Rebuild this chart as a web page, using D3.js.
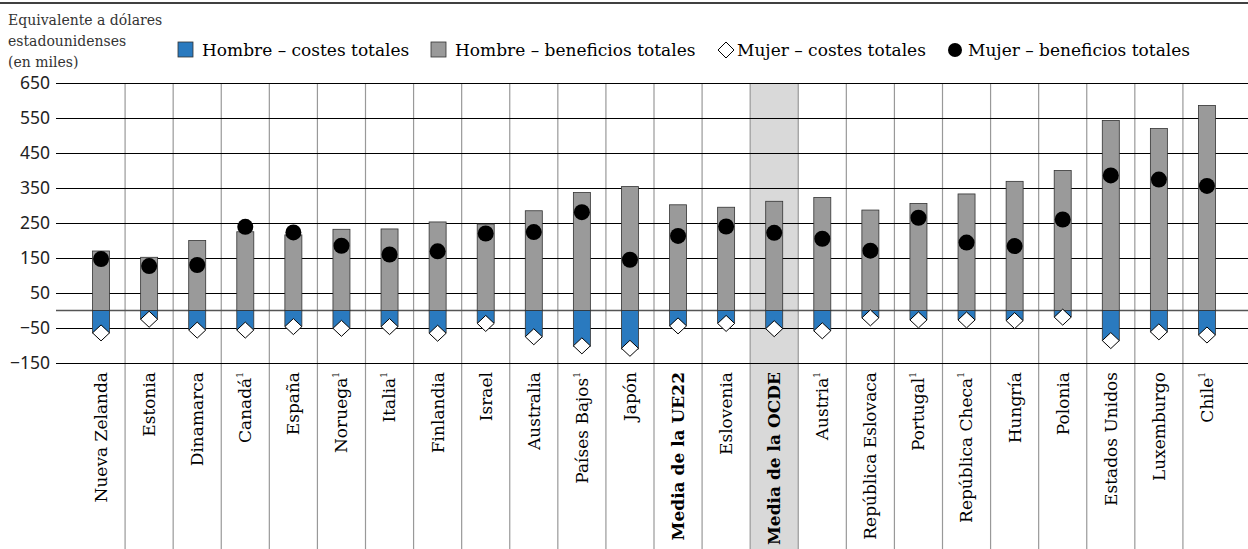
<!DOCTYPE html>
<html><head><meta charset="utf-8">
<script src="https://cdn.jsdelivr.net/npm/d3@7"></script>
<style>
body{margin:0;background:#fff;}
svg{display:block;}
</style></head>
<body>
<svg id="chart" width="1248" height="549"></svg>
<script>
const categories = ["Nueva Zelanda","Estonia","Dinamarca","Canadá","España","Noruega","Italia","Finlandia","Israel","Australia","Países Bajos","Japón","Media de la UE22","Eslovenia","Media de la OCDE","Austria","República Eslovaca","Portugal","República Checa","Hungría","Polonia","Estados Unidos","Luxemburgo","Chile"];
const footnoted = ["Canadá","Noruega","Italia","Países Bajos","Austria","Portugal","República Checa","Chile"];
const boldCats = ["Media de la UE22","Media de la OCDE"];
const highlightCat = "Media de la OCDE";
const menBenefits   = [170,152,200,225,216,232,233,253,247,285,337,354,302,295,312,323,287,306,333,369,400,543,520,586];
const menCosts      = [-64,-25,-54,-55,-45,-51,-46,-64,-35,-74,-102,-110,-43,-36,-52,-57,-20,-26,-26,-28,-18,-86,-61,-69];
const womenBenefits = [147,127,130,239,223,185,160,169,220,224,281,145,213,240,222,205,171,265,194,184,260,386,374,356];
const womenCosts    = [-64,-25,-56,-56,-46,-51,-46,-65,-37,-75,-101,-108,-44,-37,-52,-58,-21,-27,-27,-29,-19,-86,-61,-70];
const yTicks = [650,550,450,350,250,150,50,-50,-150];
const legendLabels = ["Hombre – costes totales","Hombre – beneficios totales","Mujer – costes totales","Mujer – beneficios totales"];
const titleLines = ["Equivalente a dólares","estadounidenses","(en miles)"];

const W = 1248, H = 549;
const svg = d3.select("#chart");
const serif = "'DejaVu Serif', serif";
const sans = "'Noto Sans', 'DejaVu Sans', sans-serif";
const blue = "#2a7abf", gray = "#9a9a9a";

const x = d3.scaleBand().domain(categories).range([77, 1231]).padding(0);
const y = d3.scaleLinear().domain([-150, 650]).range([363, 83]);
const barW = 17;
const gridLeft = 56, gridRight = W, bottom = H;

// top rule
svg.append("line").attr("x1",0).attr("x2",W).attr("y1",3).attr("y2",3).attr("stroke","#000").attr("stroke-width",1.5);

// title
svg.append("g").selectAll("text").data(titleLines).join("text")
  .attr("x",8).attr("y",(d,i)=>25+i*21)
  .attr("font-family",serif).attr("font-size",14).attr("fill","#333")
  .text(d=>d);

// highlight
svg.append("rect").attr("x",x(highlightCat)).attr("width",x.bandwidth())
  .attr("y",y(650)).attr("height",bottom-y(650)).attr("fill","#d9d9d9");

// vertical separators
svg.append("g").selectAll("line").data(categories.slice(1)).join("line")
  .attr("x1",d=>x(d)).attr("x2",d=>x(d)).attr("y1",y(650)).attr("y2",bottom)
  .attr("stroke","#999").attr("stroke-width",1.2);

// y axis grid
const yAxis = d3.axisLeft(y).tickValues(yTicks).tickSize(-(gridRight-gridLeft)).tickPadding(6).tickFormat(d3.format("d"));
const gy = svg.append("g").attr("transform",`translate(${gridLeft},0)`).call(yAxis);
gy.select(".domain").remove();
gy.selectAll(".tick line").attr("stroke","#000").attr("stroke-width",1);
gy.selectAll(".tick text").attr("font-family",sans).attr("font-size",17.5).attr("fill","#222");
// zero line
svg.append("line").attr("x1",gridLeft).attr("x2",gridRight).attr("y1",y(0)).attr("y2",y(0)).attr("stroke","#555").attr("stroke-width",1.5);

// bars
const idx = d3.range(categories.length);
svg.append("g").selectAll("rect").data(idx).join("rect")
  .attr("x",i=>x(categories[i])+x.bandwidth()/2-barW/2).attr("width",barW)
  .attr("y",i=>y(menBenefits[i])).attr("height",i=>y(0)-y(menBenefits[i]))
  .attr("fill",gray).attr("stroke","#333").attr("stroke-width",0.8);
svg.append("g").selectAll("rect").data(idx).join("rect")
  .attr("x",i=>x(categories[i])+x.bandwidth()/2-barW/2).attr("width",barW)
  .attr("y",y(0)).attr("height",i=>y(menCosts[i])-y(0))
  .attr("fill",blue).attr("stroke","#333").attr("stroke-width",0.8);

// diamonds
const diamond = "M0,-8L8.5,0L0,8L-8.5,0Z";
svg.append("g").selectAll("path").data(idx).join("path")
  .attr("transform",i=>`translate(${x(categories[i])+x.bandwidth()/2},${y(womenCosts[i])})`)
  .attr("d",diamond).attr("fill","#fff").attr("stroke","#000").attr("stroke-width",1);
// dots
svg.append("g").selectAll("circle").data(idx).join("circle")
  .attr("cx",i=>x(categories[i])+x.bandwidth()/2).attr("cy",i=>y(womenBenefits[i]))
  .attr("r",8).attr("fill","#000");

// category labels
const lab = svg.append("g").selectAll("text").data(categories).join("text")
  .attr("transform",d=>`translate(${x(d)+x.bandwidth()/2},372) rotate(-90)`)
  .attr("text-anchor","end").attr("dy","0.35em")
  .attr("font-family",serif).attr("font-size",17).attr("fill","#000")
  .attr("font-weight",d=>boldCats.includes(d)?"bold":"normal");
lab.append("tspan").text(d=>d);
lab.filter(d=>footnoted.includes(d)).append("tspan").attr("font-size",9).attr("dy","-0.9em").text("1");

// legend
const legX = [178, 431, 718, 947];
const legTextX = [202, 455, 737, 968];
const ly = 50;
const lg = svg.append("g");
lg.append("rect").attr("x",legX[0]).attr("y",ly-8).attr("width",15).attr("height",15).attr("fill",blue).attr("stroke","#333").attr("stroke-width",0.8);
lg.append("rect").attr("x",legX[1]).attr("y",ly-8).attr("width",15).attr("height",15).attr("fill",gray).attr("stroke","#333").attr("stroke-width",0.8);
lg.append("path").attr("transform",`translate(${legX[2]+8},${ly})`).attr("d","M0,-8L8,0L0,8L-8,0Z").attr("fill","#fff").attr("stroke","#000");
lg.append("circle").attr("cx",legX[3]+8).attr("cy",ly).attr("r",7).attr("fill","#000");
lg.selectAll("text").data(legendLabels).join("text")
  .attr("x",(d,i)=>legTextX[i]).attr("y",ly+6)
  .attr("font-family",serif).attr("font-size",17).attr("fill","#000").text(d=>d);
</script>
</body></html>
